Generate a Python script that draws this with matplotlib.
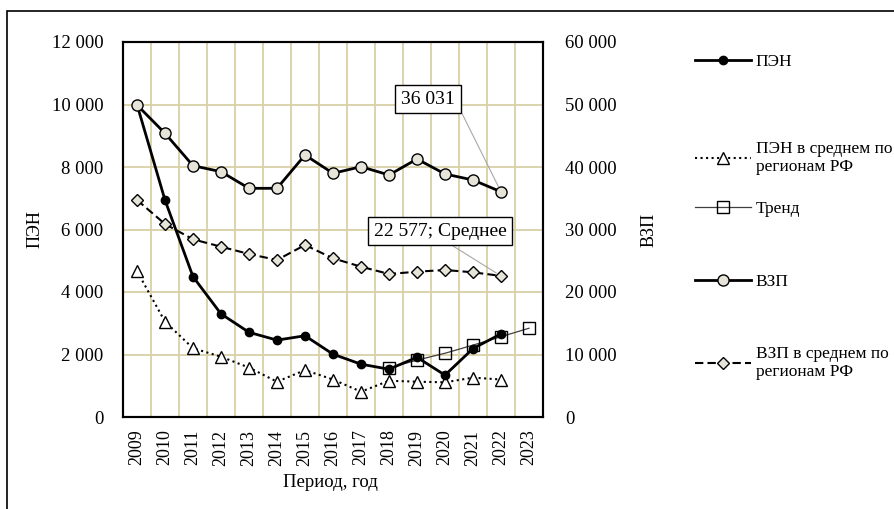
import matplotlib.pyplot as plt
from matplotlib.patches import Rectangle
from matplotlib.ticker import FuncFormatter, MultipleLocator

plt.rcParams['font.family'] = ['Liberation Serif', 'DejaVu Serif']

# data
years = [str(y) for y in range(2009, 2024)]
pen = [10000, 6940, 4490, 3300, 2710, 2460, 2600, 2010, 1690, 1530, 1910, 1340, 2190, 2660]
pen_avg = [4670, 3050, 2200, 1930, 1580, 1130, 1500, 1200, 810, 1160, 1130, 1110, 1260, 1200]
trend_start = 9  # 2018
trend = [1570, 1820, 2040, 2300, 2570, 2840]
vzp = [49920, 45390, 40210, 39250, 36590, 36590, 41920, 38990, 40050, 38720, 41280, 38880, 37920, 36031]
vzp_avg = [34720, 30880, 28430, 27250, 26080, 25120, 27520, 25390, 24050, 22880, 23250, 23520, 23150, 22577]

grid_col = '#d8d0a6'
fill_col = '#e6e4d8'


def thousands(v, pos):
    return f"{v:,.0f}".replace(",", " ")


fig = plt.figure(figsize=(8.94, 5.09), dpi=100)
fig.patches.append(Rectangle((7 / 894, -0.1), 1.2, 1 - 11 / 509 + 0.1, transform=fig.transFigure,
                             fill=False, ec='black', lw=1.2))

ax = fig.add_axes([123 / 894, 1 - 417 / 509, 420 / 894, 375 / 509])
ax2 = ax.twinx()

x = list(range(len(pen)))
l1, = ax.plot(x, pen, color='black', lw=2, marker='o', ms=6, mfc='black', mec='black', zorder=4)
l2, = ax.plot(x, pen_avg, color='black', ls=':', lw=1.5, marker='^', ms=8, mfc='white', mec='black',
              zorder=3)
xt = list(range(trend_start, trend_start + len(trend)))
l3, = ax.plot(xt, trend, color='#404040', lw=0.9, marker='s', ms=8, mfc='none', mec='black', zorder=3)
l4, = ax2.plot(x, vzp, color='black', lw=2, marker='o', ms=8, mfc=fill_col, mec='black', zorder=3)
l5, = ax2.plot(x, vzp_avg, color='black', ls=(0, (4, 2)), lw=1.5, marker='D', ms=6, mfc=fill_col,
               mec='black', zorder=3)

ax.set_xlim(-0.5, len(years) - 0.5)
ax.set_xticks(range(len(years)))
ax.set_xticklabels(years, rotation=90)
ax.set_xticks([i + 0.5 for i in range(len(years) - 1)], minor=True)
ax.set_ylim(0, 12000)
ax.yaxis.set_major_locator(MultipleLocator(2000))
ax.yaxis.set_major_formatter(FuncFormatter(thousands))
ax2.set_ylim(0, 60000)
ax2.yaxis.set_major_locator(MultipleLocator(10000))
ax2.yaxis.set_major_formatter(FuncFormatter(thousands))

ax.grid(axis='x', which='minor', color=grid_col, lw=1.3)
ax.grid(axis='y', which='major', color=grid_col, lw=1.3)
ax.set_axisbelow(True)

ax.tick_params(axis='x', which='both', length=0, pad=9, labelsize=13)
ax.tick_params(axis='y', length=0, pad=14, labelsize=13.5)
ax2.tick_params(axis='y', length=0, pad=16, labelsize=13.5)
for a in (ax, ax2):
    for s in a.spines.values():
        s.set_linewidth(1.5)
        s.set_color('black')

ax.set_ylabel('ПЭН', fontsize=13)
ax.yaxis.set_label_coords(-0.19, 0.5)
ax2.set_ylabel('ВЗП', fontsize=13)
ax2.yaxis.set_label_coords(1.231, 0.5)
ax.set_xlabel('Период, год', fontsize=13.5)
ax.xaxis.set_label_coords(0.493, -0.152)

box = dict(boxstyle='square,pad=0.3', fc='white', ec='black', lw=1)
ax2.annotate('36 031', xy=(13, vzp[-1]), xytext=(10.39, 50880), ha='center', va='center',
             fontsize=14, bbox=box, zorder=6,
             arrowprops=dict(arrowstyle='-', color='#a8a8a8', lw=0.8, relpos=(1, 0.5),
                             shrinkA=0, shrinkB=4))
ax2.annotate('22 577; Среднее', xy=(13, vzp_avg[-1]), xytext=(10.82, 29760), ha='center',
             va='center', fontsize=14, bbox=box, zorder=6,
             arrowprops=dict(arrowstyle='-', color='#a8a8a8', lw=0.8, relpos=(0.52, 0),
                             shrinkA=0, shrinkB=4))

# legend, one entry per row at its own height
entries = [
    (l1, 'ПЭН', 62),
    (l2, 'ПЭН в среднем по\nрегионам РФ', 158),
    (l3, 'Тренд', 209),
    (l4, 'ВЗП', 282),
    (l5, 'ВЗП в среднем по\nрегионам РФ', 363),
]
for h, lab, ypix in entries:
    fig.legend([h], [lab], loc='center left', bbox_to_anchor=(695 / 894, 1 - ypix / 509),
               frameon=False, fontsize=12.5, handlelength=3.2, handletextpad=0.3,
               borderpad=0, borderaxespad=0, labelspacing=0)

fig.savefig('out.png', dpi=100)
